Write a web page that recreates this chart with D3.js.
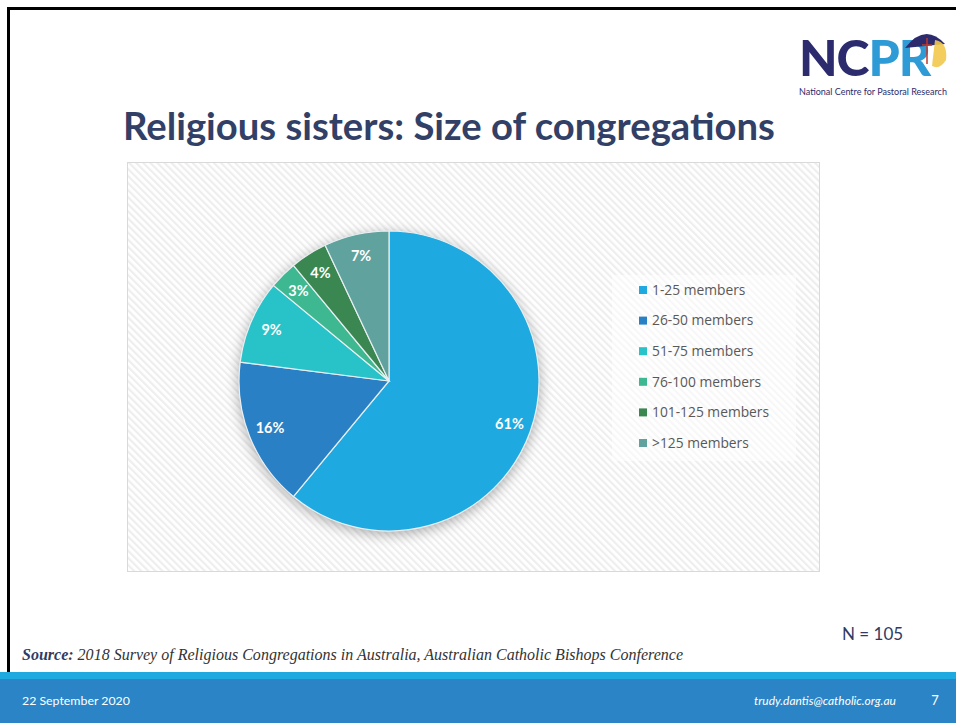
<!DOCTYPE html>
<html><head><meta charset="utf-8">
<script src="https://cdn.jsdelivr.net/npm/d3@7"></script>
<style>body{margin:0;background:#fff;}svg{display:block;}</style>
</head><body>
<svg id="c" width="956" height="723"></svg>
<script>
const categories = ["1-25 members","26-50 members","51-75 members","76-100 members","101-125 members",">125 members"];
const values = [61,16,9,3,4,7];
const colors = ["#1EAAE1","#2980C4","#27C3C9","#3EB891","#3A8752","#5FA29E"];
const titleText = "Religious sisters: Size of congregations";
const nText = "N = 105";

const svg = d3.select("#c");
const defs = svg.append("defs");
const pat = defs.append("pattern").attr("id","hatch").attr("patternUnits","userSpaceOnUse")
  .attr("width",5).attr("height",5).attr("patternTransform","rotate(-45)");
pat.append("rect").attr("width",5).attr("height",5).attr("fill","#fff");
pat.append("rect").attr("width",2.2).attr("height",5).attr("fill","#EEEEEE");
const f = defs.append("filter").attr("id","sh").attr("x","-30%").attr("y","-30%").attr("width","160%").attr("height","160%");
f.append("feGaussianBlur").attr("in","SourceAlpha").attr("stdDeviation",7).attr("result","b");
f.append("feOffset").attr("in","b").attr("dx",0).attr("dy",3).attr("result","o");
f.append("feComponentTransfer").attr("in","o").attr("result","o2").append("feFuncA").attr("type","linear").attr("slope",0.35);
const fm = f.append("feMerge"); fm.append("feMergeNode").attr("in","o2"); fm.append("feMergeNode").attr("in","SourceGraphic");

function fitWidth(sel, base, target){ sel.attr("font-size", base); const w = sel.node().getComputedTextLength(); sel.attr("font-size", base*target/w); }

// slide frame
svg.append("path").attr("d","M8.5,723 V8.5 H956").attr("fill","none").attr("stroke","#000").attr("stroke-width",3);

// footer
svg.append("rect").attr("x",0).attr("y",672).attr("width",956).attr("height",7).attr("fill","#1EAAE1");
svg.append("rect").attr("x",0).attr("y",679).attr("width",956).attr("height",44).attr("fill","#2A84C6");
const d1 = svg.append("text").attr("x",22).attr("y",705).attr("fill","#fff").attr("font-family","Lato, 'Open Sans', sans-serif").text("22 September 2020");
fitWidth(d1, 12, 108);
const em = svg.append("text").attr("x",754).attr("y",705).attr("fill","#fff").attr("font-style","italic").attr("font-family","Lato, 'Open Sans', sans-serif").text("trudy.dantis@catholic.org.au");
fitWidth(em, 12, 142);
svg.append("text").attr("x",935).attr("y",705).attr("text-anchor","middle").attr("fill","#fff").attr("font-family","Lato, 'Open Sans', sans-serif").attr("font-size",13).text("7");

// source
const src = svg.append("text").attr("x",22).attr("y",660).attr("font-family","'Liberation Serif', 'Times New Roman', serif").attr("font-style","italic");
src.append("tspan").attr("font-weight","bold").attr("fill","#2F3B63").text("Source:");
src.append("tspan").attr("fill","#333").text(" 2018 Survey of Religious Congregations in Australia, Australian Catholic Bishops Conference");
fitWidth(src, 15, 662);

svg.append("text").attr("x",842).attr("y",640).attr("fill","#2F3B63").attr("font-family","Lato, 'Open Sans', sans-serif").attr("font-size",17).text(nText);

// title
const t = svg.append("text").attr("x",123).attr("y",140).attr("fill","#323F66").attr("font-weight","bold")
  .attr("font-family","Lato, 'Open Sans', sans-serif").text(titleText);
fitWidth(t, 36, 652);

// logo
const lg = svg.append("g");
const nc = lg.append("text").attr("x",799).attr("y",76).attr("font-family","Lato, 'Open Sans', sans-serif").attr("font-weight",900)
  .attr("letter-spacing",-1)
  .call(s=>{s.append("tspan").attr("fill","#2B2B6E").text("NC");s.append("tspan").attr("fill","#2E9BD6").text("PR");});
fitWidth(nc, 38, 130);
lg.append("path").attr("d","M905,48 Q925,22 945,44 Z").attr("fill","#2B2B6E");
lg.append("path").attr("d","M935,40 Q948,42 946,60 Q940,70 932,66 Z").attr("fill","#F2C94C").attr("opacity",0.9);
lg.append("line").attr("x1",927).attr("y1",38).attr("x2",927).attr("y2",64).attr("stroke","#C0392B").attr("stroke-width",1.5);
lg.append("line").attr("x1",922).attr("y1",45).attr("x2",932).attr("y2",45).attr("stroke","#C0392B").attr("stroke-width",1.5);
const sm = lg.append("text").attr("x",799).attr("y",95).attr("font-family","Lato, 'Open Sans', sans-serif").attr("fill","#2B2B6E").text("National Centre for Pastoral Research");
fitWidth(sm, 7.5, 148);

// chart area
svg.append("rect").attr("x",127.5).attr("y",162.5).attr("width",692).attr("height",409).attr("fill","url(#hatch)").attr("stroke","#D9D9D9").attr("stroke-width",1);

// pie
const cx = 389, cy = 381, R = 150;
const pie = d3.pie().sort(null).value(d=>d.v);
const data = pie(categories.map((c,i)=>({c, v: values[i], col: colors[i]})));
const arc = d3.arc().innerRadius(0).outerRadius(R);
const labelArc = d3.arc().innerRadius(128).outerRadius(128);
const pg = svg.append("g").attr("transform",`translate(${cx},${cy})`);
pg.append("circle").attr("r",R).attr("fill","#fff").attr("filter","url(#sh)");
pg.selectAll("path.s").data(data).join("path").attr("class","s").attr("d",arc)
  .attr("fill",d=>d.data.col).attr("stroke","#E8EEF2").attr("stroke-width",1.2);
pg.selectAll("text").data(data).join("text")
  .attr("transform",d=>`translate(${labelArc.centroid(d)})`)
  .attr("text-anchor","middle").attr("dy","0.35em").attr("fill","#fff").attr("font-weight","bold")
  .attr("font-family","Lato, 'Open Sans', sans-serif").attr("font-size",14.5)
  .text(d=>d.data.v+"%");

// legend
svg.append("rect").attr("x",612).attr("y",275).attr("width",184).attr("height",186).attr("fill","#fff").attr("opacity",0.55);
const y = d3.scalePoint().domain(categories).range([290,443]);
const lgd = svg.append("g");
const items = lgd.selectAll("g").data(categories).join("g").attr("transform",d=>`translate(639,${y(d)})`);
items.append("rect").attr("x",0).attr("y",-4).attr("width",8).attr("height",8).attr("fill",(d,i)=>colors[i]);
items.append("text").attr("x",13).attr("dy","0.35em").attr("fill","#595959").attr("font-family","'Open Sans', Lato, sans-serif").attr("font-size",13.8).text(d=>d);
</script>
</body></html>
